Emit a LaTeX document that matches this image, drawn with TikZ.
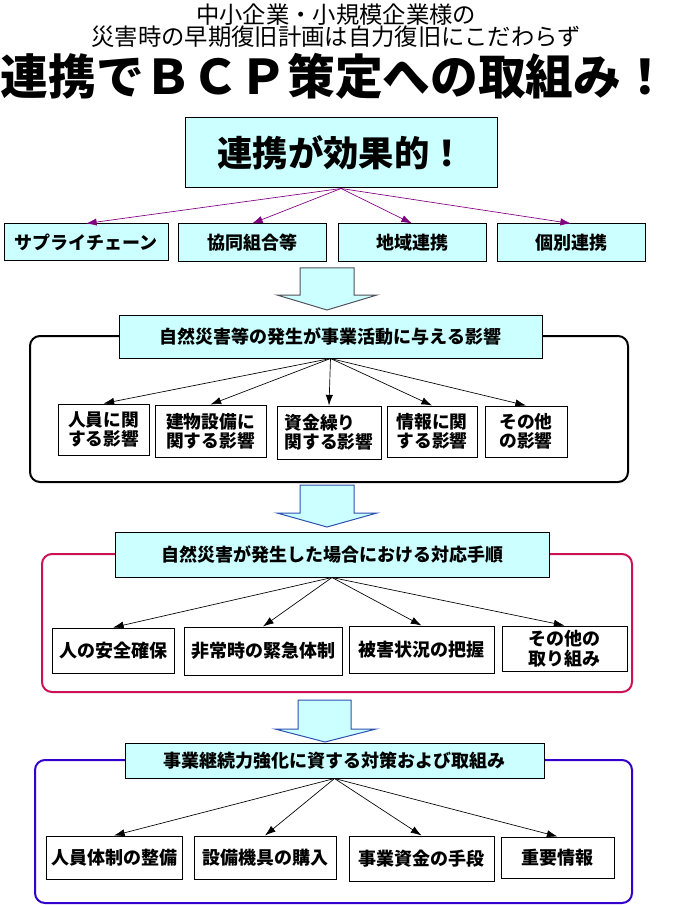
\documentclass[tikz,border=0pt]{standalone}
\usepackage{fontspec}
\setmainfont{Noto Sans CJK JP}
\usetikzlibrary{arrows.meta,fit}
\definecolor{cy}{HTML}{CCFFFF}
\definecolor{pu}{HTML}{800080}
\definecolor{cr}{HTML}{CC1155}
\definecolor{bv}{HTML}{3300CC}
\definecolor{ab}{HTML}{2C50B0}
\definecolor{ag}{HTML}{50505A}
\tikzset{
  hdr/.style={draw=black, fill=cy, line width=0.75pt, inner sep=0pt, font=\bfseries\fontsize{13.5pt}{16pt}\selectfont},
  subbox/.style={draw=black, fill=white, line width=0.75pt, inner sep=0pt, align=center, font=\bfseries\fontsize{13.5pt}{16pt}\selectfont},
  subleft/.style={subbox, align=left, font=\bfseries\fontsize{13.3pt}{14.5pt}\selectfont},
  cont/.style={line width=1.5pt, rounded corners=7.5pt},
  conn/.style={-{Latex[length=8pt,width=5.5pt]}, line width=0.5pt},
  blockarr/.style={fill=cy, line width=0.75pt, line join=miter},
  ttl/.style={inner sep=0pt, font=\fontsize{17.5pt}{20pt}\selectfont}
}
\begin{document}
\begin{tikzpicture}[x=0.75pt,y=-0.75pt]
\useasboundingbox (0,0) rectangle (677,905);
% titles
\node[ttl] (t1) at (336,15) {中小企業・小規模企業様の};
\node[ttl] (t2) at (336,37) {災害時の早期復旧計画は自力復旧にこだわらず};
\node[inner sep=0pt, font=\bfseries\fontsize{35.8pt}{40pt}\selectfont] (t3) at (335,76) {連携でＢＣＰ策定への取組み！};
% top box
\node[hdr, fit={(185,118) (497,188)}] (top) {};
\node[inner sep=0pt, font=\bfseries\fontsize{26.5pt}{30pt}\selectfont] (toptext) at (top.center) {連携が効果的！};
% row 1
\node[hdr, fit={(4,224) (168,261)}] (r1) {};
\node[inner sep=0pt, font=\bfseries\fontsize{13.5pt}{16pt}\selectfont] at (r1.center) {サプライチェーン};
\node[hdr, fit={(178,224) (326,262)}] (r2) {};
\node[inner sep=0pt, font=\bfseries\fontsize{13.5pt}{16pt}\selectfont] at (r2.center) {協同組合等};
\node[hdr, fit={(338,224) (486,262)}] (r3) {};
\node[inner sep=0pt, font=\bfseries\fontsize{13.5pt}{16pt}\selectfont] at (r3.center) {地域連携};
\node[hdr, fit={(497,224) (645,262)}] (r4) {};
\node[inner sep=0pt, font=\bfseries\fontsize{13.5pt}{16pt}\selectfont] at (r4.center) {個別連携};
\foreach \n in {r1,r2,r3,r4} \draw[conn, draw=pu] (top.south) -- (\n.north);
% block arrow 1
\draw[blockarr, draw=ag] (300,268) -- (354,268) -- (354,295) -- (377,295) -- (327,310) -- (277,295) -- (300,295) -- cycle;
% section 1
\draw[cont, draw=black] (30,336) rectangle (628,482);
\node[hdr, fit={(119,315) (542,358)}] (h1) {};
\node[inner sep=0pt, font=\bfseries\fontsize{13.5pt}{16pt}\selectfont] at (h1.center) {自然災害等の発生が事業活動に与える影響};
\node[subleft, fit={(58,404) (149,455)}] (a1) {};
\node[subleft, inner sep=0pt, draw=none, fill=none] at (a1.center) {人員に関\\する影響};
\node[subleft, fit={(155,405) (266,457)}] (a2) {};
\node[subleft, inner sep=0pt, draw=none, fill=none] at (a2.center) {建物設備に\\関する影響};
\node[subleft, fit={(277,406) (381,459)}] (a3) {};
\node[subleft, inner sep=0pt, draw=none, fill=none] at (a3.center) {資金繰り\\関する影響};
\node[subleft, fit={(387,406) (477,457)}] (a4) {};
\node[subleft, inner sep=0pt, draw=none, fill=none] at (a4.center) {情報に関\\する影響};
\node[subleft, fit={(485,406) (567,457)}] (a5) {};
\node[subleft, inner sep=0pt, draw=none, fill=none] at (a5.center) {その他\\の影響};
\foreach \n in {a1,a2,a3,a4,a5} \draw[conn] (h1.south) -- (\n.north);
% block arrow 2
\draw[blockarr, draw=ab] (300,485) -- (354,485) -- (354,513) -- (377,513) -- (327,527) -- (277,513) -- (300,513) -- cycle;
% section 2
\draw[cont, draw=cr] (42,554) rectangle (632,692);
\node[hdr, fit={(115,532) (549,577)}] (h2) {};
\node[inner sep=0pt, font=\bfseries\fontsize{13.5pt}{16pt}\selectfont] at (h2.center) {自然災害が発生した場合における対応手順};
\node[subbox, fit={(52,628) (174,673)}] (b1) {};
\node[subbox, draw=none, fill=none] at (b1.center) {人の安全確保};
\node[subbox, fit={(184,627) (342,675)}] (b2) {};
\node[subbox, draw=none, fill=none] at (b2.center) {非常時の緊急体制};
\node[subbox, fit={(349,626) (494,673)}] (b3) {};
\node[subbox, draw=none, fill=none] at (b3.center) {被害状況の把握};
\node[subbox, fit={(502,626) (627,671)}] (b4) {};
\node[subbox, draw=none, fill=none, font=\bfseries\fontsize{13.5pt}{15pt}\selectfont] at (b4.center) {その他の\\取り組み};
\foreach \n in {b1,b2,b3,b4} \draw[conn] (h2.south) -- (\n.north);
% block arrow 3
\draw[blockarr, draw=ab] (298,700) -- (351,700) -- (351,729) -- (376,729) -- (325,742) -- (275,729) -- (298,729) -- cycle;
% section 3
\draw[cont, draw=bv] (35,760) rectangle (632,903);
\node[hdr, fit={(125,743) (544,778)}] (h3) {};
\node[inner sep=0pt, font=\bfseries\fontsize{13.5pt}{16pt}\selectfont] at (h3.center) {事業継続力強化に資する対策および取組み};
\node[subbox, fit={(46,836) (182,879)}] (c1) {};
\node[subbox, draw=none, fill=none] at (c1.center) {人員体制の整備};
\node[subbox, fit={(194,836) (336,879)}] (c2) {};
\node[subbox, draw=none, fill=none] at (c2.center) {設備機具の購入};
\node[subbox, fit={(349,836) (494,881)}] (c3) {};
\node[subbox, draw=none, fill=none] at (c3.center) {事業資金の手段};
\node[subbox, fit={(501,837) (614,878)}] (c4) {};
\node[subbox, draw=none, fill=none] at (c4.center) {重要情報};
\foreach \n in {c1,c2,c3,c4} \draw[conn] (h3.south) -- (\n.north);
\end{tikzpicture}
\end{document}
